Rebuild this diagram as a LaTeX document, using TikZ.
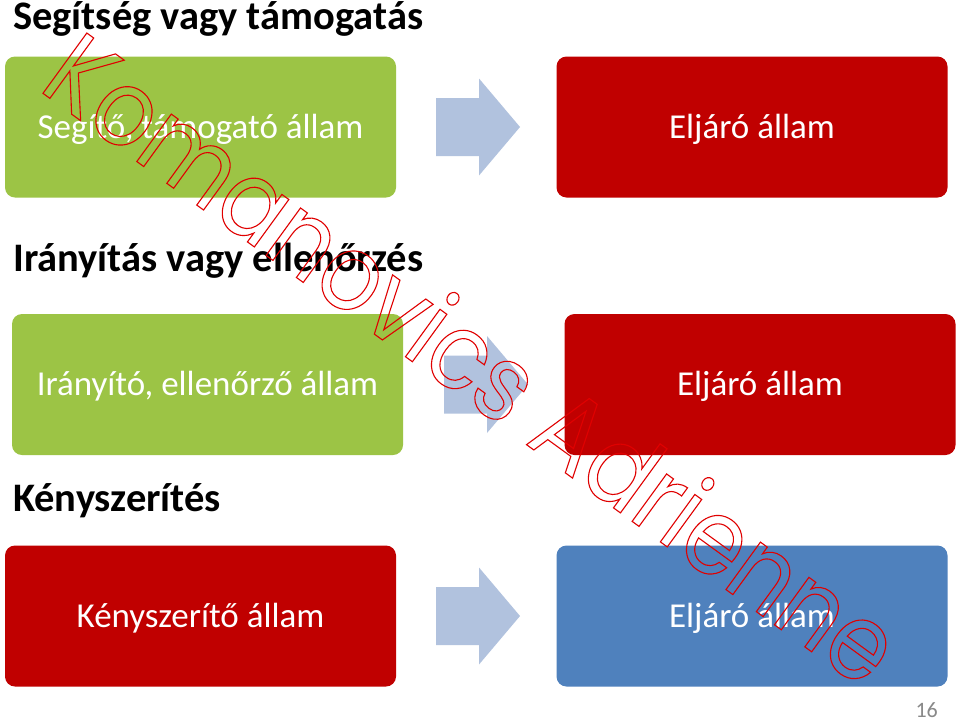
\documentclass[tikz,border=0pt]{standalone}
\usepackage{fontspec}
\setmainfont{Carlito}
\newfontfamily\wmfont[FakeStretch=0.875]{Poppins}
\definecolor{boxgreen}{HTML}{9CC445}
\definecolor{boxred}{HTML}{C00000}
\definecolor{boxblue}{HTML}{4F81BD}
\definecolor{arrowblue}{HTML}{B1C2DE}
\definecolor{wmred}{HTML}{E00000}
\definecolor{pagegray}{HTML}{898989}
\newcommand\outlinetext[1]{\special{pdf:literal direct 1 Tr 1.1 w}#1\special{pdf:literal direct 0 Tr}}
\begin{document}
\begin{tikzpicture}[x=1pt,y=-1pt,
  box/.style={rectangle, rounded corners=10pt, draw=none, minimum width=391pt, minimum height=141pt, inner sep=0pt},
  boxtext/.style={text=white, font=\fontsize{35}{40}\selectfont, anchor=base, inner sep=0pt},
  heading/.style={font=\fontsize{40.5}{46}\selectfont\bfseries, anchor=base west, inner sep=0pt},
  arrowfill/.style={fill=arrowblue, draw=none}]
\useasboundingbox (0,0) rectangle (960,718);
\fill[white] (0,0) rectangle (960,718);

% headings
\node[heading] (h1) at (13,29) {Segítség vagy támogatás};
\node[heading] (h2) at (13,271) {Irányítás vagy ellenőrzés};
\node[heading] (h3) at (13,511) {Kényszerítés};

% row 1
\node[box, fill=boxgreen] (b1) at (200.5,127) {};
\node[box, fill=boxred] (b2) at (752,127) {};
\node[boxtext] (t1) at ([yshift=-11pt]b1.center) {Segítő, támogató állam};
\node[boxtext] (t2) at ([yshift=-11pt]b2.center) {Eljáró állam};

% row 2
\node[box, fill=boxgreen] (b3) at (207.5,384.5) {};
\node[box, fill=boxred] (b4) at (760,384.5) {};
\node[boxtext] (t3) at ([yshift=-11pt]b3.center) {Irányító, ellenőrző állam};
\node[boxtext] (t4) at ([yshift=-11pt]b4.center) {Eljáró állam};

% row 3
\node[box, fill=boxred] (b5) at (200.5,616) {};
\node[box, fill=boxblue] (b6) at (752,616) {};
\node[boxtext] (t5) at ([yshift=-11pt]b5.center) {Kényszerítő állam};
\node[boxtext] (t6) at ([yshift=-11pt]b6.center) {Eljáró állam};

% arrows
\coordinate (a1) at (436,127);
\coordinate (a2) at (444,384.5);
\coordinate (a3) at (436,616);
\foreach \a in {a1,a2,a3}{
  \fill[arrowfill] (\a) ++(0,-29) -- ++(43,0) -- ++(0,-19.5) -- ++(41,48.5) -- ++(-41,48.5) -- ++(0,-19.5) -- ++(-43,0) -- cycle;
}

% page number
\node[anchor=base east, inner sep=0pt, text=pagegray, font=\fontsize{22}{24}\selectfont] (pg) at (938,717) {16};

% watermark
\node[rotate=-36, anchor=base west, inner sep=0pt, text=wmred, font=\wmfont\fontsize{107}{120}\selectfont] (wm) at (37,89) {\outlinetext{Komanovics Adrienne}};
\end{tikzpicture}
\end{document}
